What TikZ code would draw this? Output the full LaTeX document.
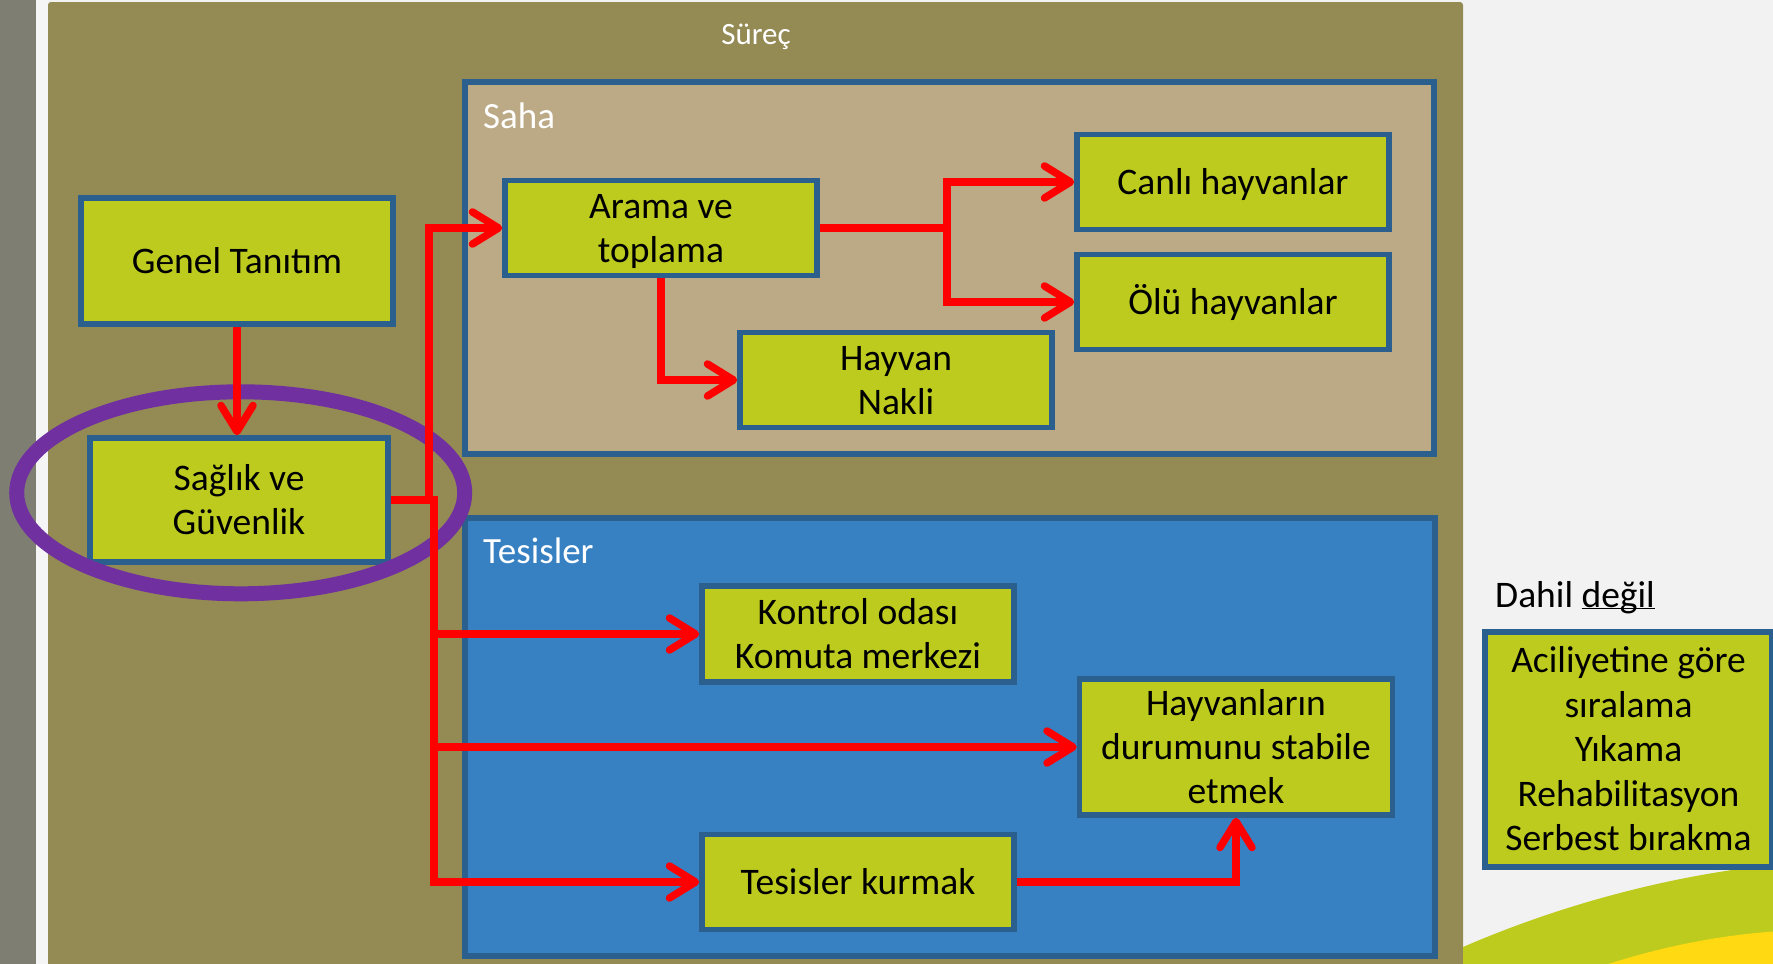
\documentclass[tikz,border=0pt]{standalone}
\usepackage{fontspec}
\setmainfont{Carlito}
\usetikzlibrary{arrows.meta}
\definecolor{cBg}{HTML}{F2F2F2}
\definecolor{cStrip}{HTML}{7E7F72}
\definecolor{cStripW}{HTML}{F5F5F5}
\definecolor{cOlive}{HTML}{948A54}
\definecolor{cTan}{HTML}{BCA986}
\definecolor{cBlue}{HTML}{3781C3}
\definecolor{cBoxG}{HTML}{BDCB1E}
\definecolor{cBord}{HTML}{2B5F8E}
\definecolor{cRed}{HTML}{FF0000}
\definecolor{cPurple}{HTML}{7030A0}
\definecolor{cYellow}{HTML}{FFD912}
\newcommand{\lnstrut}{\rule[-9pt]{0pt}{42pt}}
\tikzset{
  gbox/.style={draw=cBord, line width=5.5pt, fill=cBoxG, inner sep=0pt, align=center,
    text=black, font=\fontsize{37.5}{44}\selectfont},
  panel/.style={draw=cBord, line width=5.5pt},
  plabel/.style={text=white, inner sep=0pt, anchor=base west, font=\fontsize{37}{44}\selectfont},
  arr/.style={draw=cRed, line width=7.5pt, line join=miter,
    -{Straight Barb[length=26pt,width=32pt,round]}},
}
\begin{document}
\begin{tikzpicture}[x=1pt,y=-1pt]
\useasboundingbox (0,0) rectangle (1773,964);
\clip (0,0) rectangle (1773,964);
% backgrounds
\fill[cBg] (0,0) rectangle (1773,964);
\fill[cStrip] (0,0) rectangle (36,964);
\fill[cStripW] (36,0) rectangle (48,964);
\fill[cOlive, rounded corners=3pt] (48,2) rectangle (1463,980);
% decorative arcs bottom right
\fill[cBoxG] (1463,964) -- (1463,947) .. controls (1560,905) and (1670,875) .. (1780,864) -- (1780,964) -- cycle;
\fill[cYellow] (1608,964) .. controls (1665,946) and (1720,935) .. (1780,931) -- (1780,964) -- cycle;
% panel labels and panels
\node[text=white, inner sep=0pt, anchor=base, font=\fontsize{31}{37}\selectfont] (surec) at (756,44) {Süreç};
\draw[panel, fill=cTan] (465,82) rectangle (1434,454);
\node[plabel] (saha) at (483,128) {Saha};
\draw[panel, fill=cBlue] (465,518) rectangle (1435,956);
\node[plabel] (tesisler) at (483,563) {Tesisler};
% boxes
\node[gbox, minimum width=312pt, minimum height=126pt] (genel) at (237,261) {\lnstrut Genel Tanıtım};
\node[gbox, minimum width=298pt, minimum height=124pt] (saglik) at (239,500) {\lnstrut Sağlık ve\\\lnstrut Güvenlik};
\node[gbox, minimum width=312pt, minimum height=95pt] (arama) at (661,228) {\lnstrut Arama ve\\\lnstrut toplama};
\node[gbox, minimum width=312pt, minimum height=95pt] (canli) at (1233,182) {\lnstrut Canlı hayvanlar};
\node[gbox, minimum width=312pt, minimum height=95pt] (olu) at (1233,302) {\lnstrut Ölü hayvanlar};
\node[gbox, minimum width=312pt, minimum height=95pt] (nakli) at (896,380) {\lnstrut Hayvan\\\lnstrut Nakli};
\node[gbox, minimum width=312pt, minimum height=96pt] (kontrol) at (858,634) {\lnstrut Kontrol odası\\\lnstrut Komuta merkezi};
\node[gbox, minimum width=313pt, minimum height=136pt] (hayv) at (1236,747) {\lnstrut Hayvanların\\\lnstrut durumunu stabile\\\lnstrut etmek};
\node[gbox, minimum width=312pt, minimum height=95pt] (kurmak) at (858,882) {\lnstrut Tesisler kurmak};
% excluded
\node[inner sep=0pt, anchor=base west, text=black, font=\fontsize{37.5}{44}\selectfont] (dahil) at (1495,607) {Dahil \underline{\smash{değil}}};
\node[gbox, minimum width=287pt, minimum height=235pt, font=\fontsize{37.5}{44.5}\selectfont] (haric) at (1628.5,749.5) {\lnstrut Aciliyetine göre\\\lnstrut sıralama\\\lnstrut Yıkama\\\lnstrut Rehabilitasyon\\\lnstrut Serbest bırakma};
% highlight ellipse
\draw[cPurple, line width=15pt] (240.7,492.8) ellipse [x radius=224, y radius=101];
% connectors
\coordinate (trunkA) at (429,500);
\coordinate (trunk) at (434,500);
\coordinate (abr) at (947,228);
\draw[arr] (genel.south) -- (genel.south |- saglik.north);
\draw[arr] (saglik.east) -- (trunkA) |- (arama.west);
\draw[arr] (saglik.east) -- (trunk) |- (kontrol.west);
\draw[arr] (saglik.east) -- (trunk) |- (hayv.west);
\draw[arr] (saglik.east) -- (trunk) |- (kurmak.west);
\draw[arr] (arama.east) -- (abr) |- (canli.west);
\draw[arr] (abr) |- (olu.west);
\draw[arr] (arama.south) |- (nakli.west);
\draw[arr] (kurmak.east) -| (hayv.south);
\end{tikzpicture}
\end{document}
